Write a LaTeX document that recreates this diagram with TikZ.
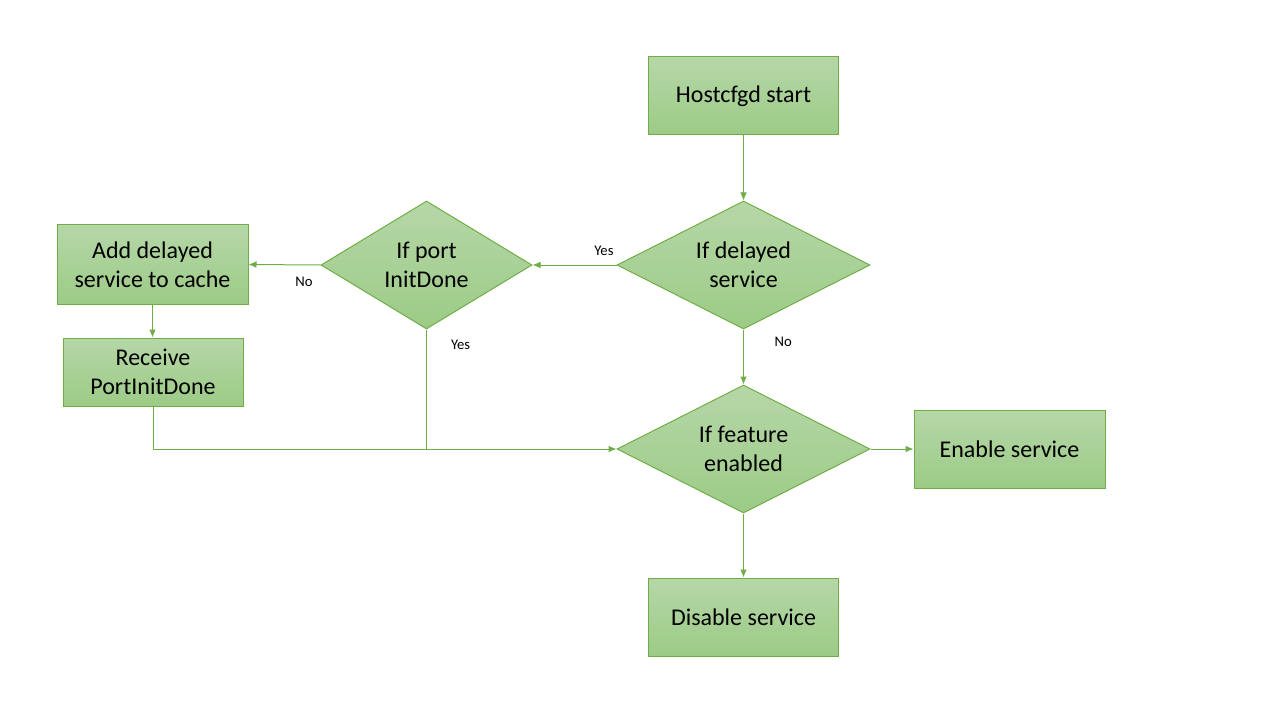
\documentclass[tikz,border=0pt]{standalone}
\usepackage{fontspec}
\setmainfont{Carlito}
\usepackage{tikz}
\usetikzlibrary{positioning}
\usetikzlibrary{arrows.meta}
\usetikzlibrary{shapes.geometric}

\definecolor{edgegreen}{RGB}{112,173,71}
\definecolor{topgreen}{RGB}{182,215,168}
\definecolor{botgreen}{RGB}{156,203,134}

\begin{document}
\begin{tikzpicture}[x=0.75pt,y=-0.75pt,>={Latex[length=6pt,width=5pt]},
  box/.style={rectangle,draw=edgegreen,line width=0.75pt,top color=topgreen,bottom color=botgreen,
    align=center,inner sep=2pt,font=\fontsize{18}{21.8}\selectfont,
    minimum width=#1*0.75pt,minimum height=58.5pt},
  box/.default=190,
  decision/.style={diamond,shape aspect=2,draw=edgegreen,line width=0.75pt,top color=topgreen,bottom color=botgreen,
    align=center,inner sep=0pt,font=\fontsize{18}{21.8}\selectfont,
    minimum width=#1*0.75pt,minimum height=96pt},
  decision/.default=253,
  link/.style={draw=edgegreen,line width=0.75pt},
  lbl/.style={font=\fontsize{11}{13}\selectfont,inner sep=1pt}]

\useasboundingbox (0,0) rectangle (1280,720);

\node [box] (start) at (743.5,96) {Hostcfgd start};
\node [decision] (delayed) at (743.5,265) {If delayed\\service};
\node [decision=211] (port) at (426.5,265) {If port\\InitDone};
\node [box=191,minimum height=59.25pt] (cache) at (152.5,264.5) {Add delayed\\service to cache};
\node [box=180,minimum height=51pt] (receive) at (153,372) {Receive\\PortInitDone};
\node [decision] (feature) at (743.5,449) {If feature\\enabled};
\node [box=191] (enable) at (1009.5,449) {Enable service};
\node [box] (disable) at (743.5,617) {Disable service};

\draw [link,->] (start)-- (delayed);
\draw [link,->] (delayed.west)-- node [lbl,above=6pt,pos=0.15] {Yes} (port.east);
\draw [link,->] (port.west)-- node [lbl,below=8pt,pos=0.23] {No} (cache.east);
\draw [link,->] (cache.south)-- (cache.south |- receive.north);
\draw [link] (port.south)-- node [lbl,right=17pt,pos=0.13] {Yes} (port.south |- feature.west);
\draw [link,->] (receive.south) |- (feature.west);
\draw [link,->] (delayed.south)-- node [lbl,right=22pt,pos=0.23] {No} (feature.north);
\draw [link,->] (feature.east)-- (enable.west);
\draw [link,->] (feature.south)-- (disable.north);

\end{tikzpicture}
\end{document}
